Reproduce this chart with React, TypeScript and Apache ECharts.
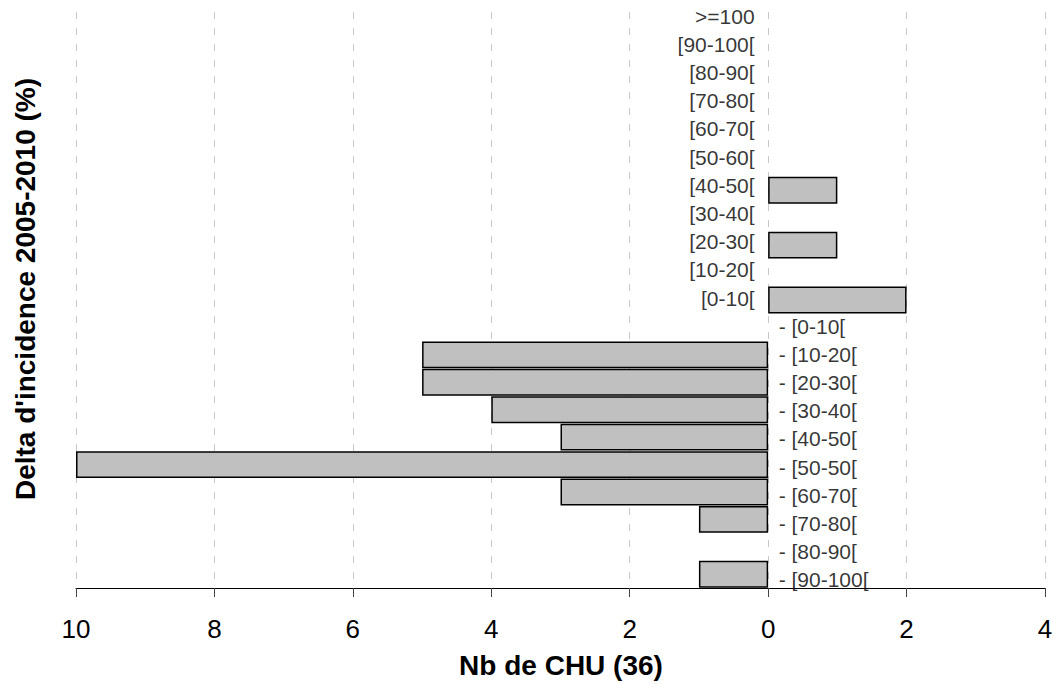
import React, { useEffect, useRef } from "react";
import * as echarts from "echarts";

const categories = [
  ">=100", "[90-100[", "[80-90[", "[70-80[", "[60-70[", "[50-60[", "[40-50[",
  "[30-40[", "[20-30[", "[10-20[", "[0-10[",
  "- [0-10[", "- [10-20[", "- [20-30[", "- [30-40[", "- [40-50[", "- [50-50[",
  "- [60-70[", "- [70-80[", "- [80-90[", "- [90-100[",
];
// signed: negative side = decreasing incidence
const values = [0, 0, 0, 0, 0, 0, 1, 0, 1, 0, 2, 0, -5, -5, -4, -3, -10, -3, -1, 0, -1];
const isNegativeClass = categories.map((c) => c.startsWith("-"));
const xTitle = "Nb de CHU (36)";
const yTitle = "Delta d'incidence 2005-2010 (%)";

const FONT = "Liberation Sans, Arial, sans-serif";

export default function App() {
  const ref = useRef<HTMLDivElement>(null);
  useEffect(() => {
    const chart = echarts.init(ref.current!, null, { renderer: "svg" });
    chart.setOption({
      animation: false,
      backgroundColor: "#ffffff",
      grid: [
        { left: 76, right: 13, top: 12, bottom: 96 },
        { left: 76, right: 13, top: 2, bottom: 90 },
      ],
      xAxis: [
        {
          type: "value",
          gridIndex: 0,
          min: -10,
          max: 4,
          interval: 2,
          axisLine: { show: true, onZero: false, lineStyle: { color: "#000", width: 1 } },
          axisTick: { show: true, length: 9, lineStyle: { color: "#444" } },
          axisLabel: {
            formatter: (v: number) => String(Math.abs(v)),
            fontSize: 26,
            color: "#000",
            fontFamily: FONT,
            margin: 28,
          },
          splitLine: { show: true, lineStyle: { color: "#c8c8c8", width: 1, type: [7, 9] } },
        },
        {
          type: "value",
          gridIndex: 1,
          min: -10,
          max: 4,
          show: false,
        },
      ],
      yAxis: [
        {
          type: "category",
          gridIndex: 0,
          data: categories,
          inverse: true,
          axisLine: { show: false, onZero: false },
          axisTick: { show: false },
          axisLabel: { show: false },
          splitLine: { show: false },
        },
        {
          type: "category",
          gridIndex: 1,
          data: categories,
          inverse: true,
          show: false,
        },
      ],
      series: [
        {
          type: "bar",
          xAxisIndex: 0,
          yAxisIndex: 0,
          data: values.map((v) => (v === 0 ? "-" : v)),
          barCategoryGap: "2%",
          itemStyle: { color: "#c0c0c0", borderColor: "#000", borderWidth: 1.5 },
        },
        {
          type: "scatter",
          xAxisIndex: 1,
          yAxisIndex: 1,
          symbolSize: 1,
          itemStyle: { color: "rgba(0,0,0,0)" },
          data: categories.map((c, i) => ({
            value: [0, i],
            label: {
              show: true,
              formatter: c,
              position: isNegativeClass[i] ? "right" : "left",
              distance: isNegativeClass[i] ? 10 : 13,
              fontSize: 21,
              color: "#000",
              fontFamily: FONT,
            },
          })),
        },
      ],
      graphic: [
        {
          type: "text",
          x: 561,
          y: 665,
          style: {
            text: xTitle,
            fontSize: 28,
            fontWeight: "bold",
            fontFamily: FONT,
            fill: "#000",
            align: "center",
            verticalAlign: "middle",
          },
        },
        {
          type: "text",
          x: 25,
          y: 289,
          rotation: Math.PI / 2,
          style: {
            text: yTitle,
            fontSize: 28,
            fontWeight: "bold",
            fontFamily: FONT,
            fill: "#000",
            align: "center",
            verticalAlign: "middle",
          },
        },
      ],
    });
    return () => chart.dispose();
  }, []);
  return (
    <div
      ref={ref}
      style={{ position: "absolute", left: 0, top: 0, width: 1058, height: 684 }}
    />
  );
}
